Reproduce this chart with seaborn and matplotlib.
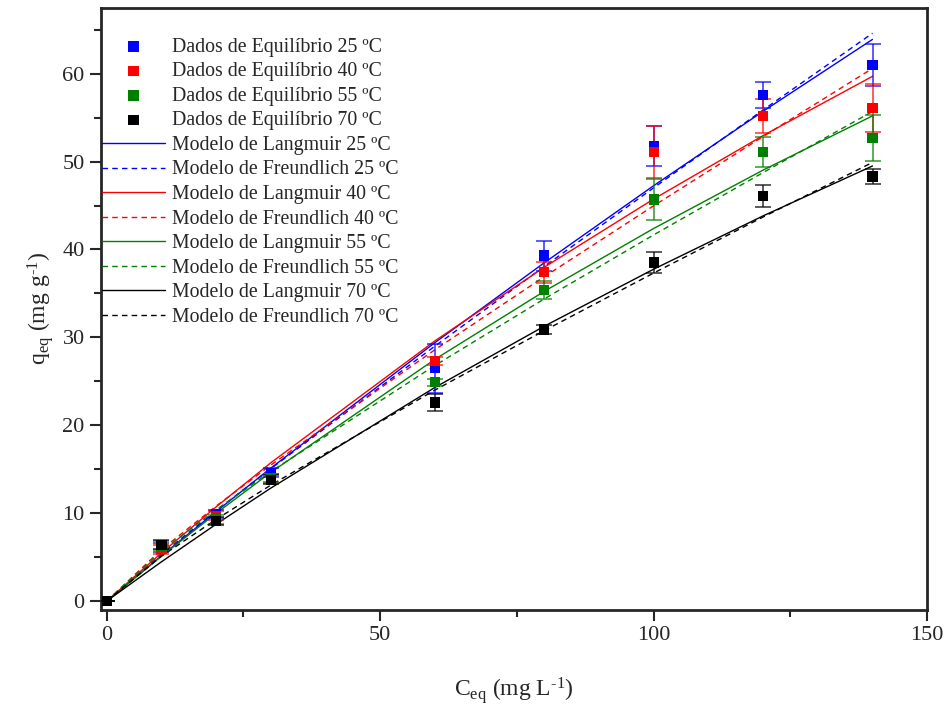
import numpy as np
import pandas as pd
import matplotlib
matplotlib.use("Agg")
import matplotlib.pyplot as plt
import seaborn as sns

# Equilibrium concentrations (mg/L)
ceq = [0, 10, 20, 30, 60, 80, 100, 120, 140]
temps = ["25", "40", "55", "70"]
colors = ["#0000ff", "#ff0000", "#008000", "#000000"]

q_25 = [0.0, 6.1, 9.9, 14.6, 26.5, 39.3, 51.8, 57.6, 61.0]
q_40 = [0.0, 5.9, 9.7, 14.0, 27.3, 37.4, 51.1, 55.2, 56.1]
q_55 = [0.0, 6.3, 9.3, 13.9, 24.9, 35.4, 45.7, 51.1, 52.7]
q_70 = [0.0, 6.4, 9.1, 13.8, 22.6, 30.9, 38.5, 46.1, 48.3]
err_25 = [0.0, 0.5, 0.5, 0.5, 2.8, 1.7, 2.3, 1.5, 2.35]
err_40 = [0.0, 0.5, 0.5, 0.5, 0.5, 1.2, 3.0, 1.9, 2.7]
err_55 = [0.0, 0.5, 0.5, 0.5, 0.4, 1.0, 2.3, 1.75, 2.6]
err_70 = [0.0, 0.5, 0.5, 0.5, 0.95, 0.5, 1.2, 1.25, 0.85]

# Model curves evaluated at the same concentrations
lang_25 = [0.0, 5.14, 10.18, 15.12, 29.4, 38.49, 47.26, 55.72, 63.9]
lang_40 = [0.0, 5.47, 10.71, 15.73, 29.6, 37.98, 45.74, 52.96, 59.7]
lang_55 = [0.0, 5.10, 9.98, 14.64, 27.5, 35.24, 42.39, 49.03, 55.2]
lang_70 = [0.0, 4.46, 8.74, 12.85, 24.3, 31.27, 37.76, 43.82, 49.5]
freu_25 = [0.0, 5.33, 10.27, 15.06, 29.0, 38.07, 47.02, 55.87, 64.6]
freu_40 = [0.0, 5.84, 10.80, 15.47, 28.59, 36.90, 44.97, 52.85, 60.6]
freu_55 = [0.0, 5.71, 10.38, 14.73, 26.80, 34.38, 41.66, 48.75, 55.7]
freu_70 = [0.0, 5.10, 9.29, 13.19, 24.0, 30.77, 37.32, 43.69, 49.9]

data_q = [q_25, q_40, q_55, q_70]
data_err = [err_25, err_40, err_55, err_70]
lang = [lang_25, lang_40, lang_55, lang_70]
freu = [freu_25, freu_40, freu_55, freu_70]

sns.set_style("ticks")
plt.rcParams["font.family"] = ["Liberation Serif", "DejaVu Serif"]
plt.rcParams["mathtext.fontset"] = "custom"
plt.rcParams["mathtext.rm"] = "Liberation Serif"
plt.rcParams["mathtext.it"] = "Liberation Serif:italic"

fig = plt.figure(figsize=(9.5, 7.05), dpi=100)
ax = fig.add_axes([0.106, 0.135, 0.87, 0.854])

for t, c, q, e, ql, qf in zip(temps, colors, data_q, data_err, lang, freu):
    df = pd.DataFrame({"ceq": ceq, "q": q, "lang": ql, "freu": qf})
    sns.lineplot(data=df, x="ceq", y="lang", ax=ax, color=c, lw=1.0,
                 label=f"Modelo de Langmuir {t} ºC", zorder=2)
    sns.lineplot(data=df, x="ceq", y="freu", ax=ax, color=c, lw=1.0,
                 label=f"Modelo de Freundlich {t} ºC", zorder=2)
    ax.lines[-1].set_dashes((4, 3))
    ax.errorbar(df["ceq"], df["q"], yerr=e, fmt="none", ecolor=c,
                elinewidth=1.2, capsize=6, capthick=1.2, alpha=0.75, zorder=3)
    sns.scatterplot(data=df, x="ceq", y="q", ax=ax, color=c, marker="s",
                    s=55, edgecolor="none", label=f"Dados de Equilíbrio {t} ºC",
                    zorder=4)

handles, labels = ax.get_legend_handles_labels()
order = [i for i, l in enumerate(labels) if l.startswith("Dados")]
for t in temps:
    for kind in ["Langmuir", "Freundlich"]:
        order.append(labels.index(f"Modelo de {kind} {t} ºC"))
ax.legend([handles[i] for i in order], [labels[i] for i in order],
          loc="upper left", bbox_to_anchor=(0.0, 0.952), frameon=False,
          fontsize=14.3, handlelength=3.2, handletextpad=0.35,
          labelspacing=0.28, borderaxespad=0.0, borderpad=0.05)

ax.set_xlim(-1.1, 150)
ax.set_ylim(-1.0, 67.5)
ax.set_xticks([0, 50, 100, 150])
ax.set_xticks([25, 75, 125], minor=True)
ax.set_yticks(np.arange(0, 61, 10))
ax.set_yticks(np.arange(5, 66, 10), minor=True)
ax.tick_params(axis="both", which="major", direction="out", length=8,
               width=1.5, labelsize=16)
ax.tick_params(axis="both", which="minor", direction="out", length=5,
               width=1.5)
for sp in ax.spines.values():
    sp.set_linewidth(2)
    sp.set_visible(True)

ax.set_xlabel(r"C$_{\mathrm{eq}}$ (mg L$^{\text{-1}}$)", fontsize=17, labelpad=22)
ax.set_ylabel(r"q$_{\mathrm{eq}}$ (mg g$^{\text{-1}}$)", fontsize=17, labelpad=5)

fig.savefig("out.png", dpi=100)
